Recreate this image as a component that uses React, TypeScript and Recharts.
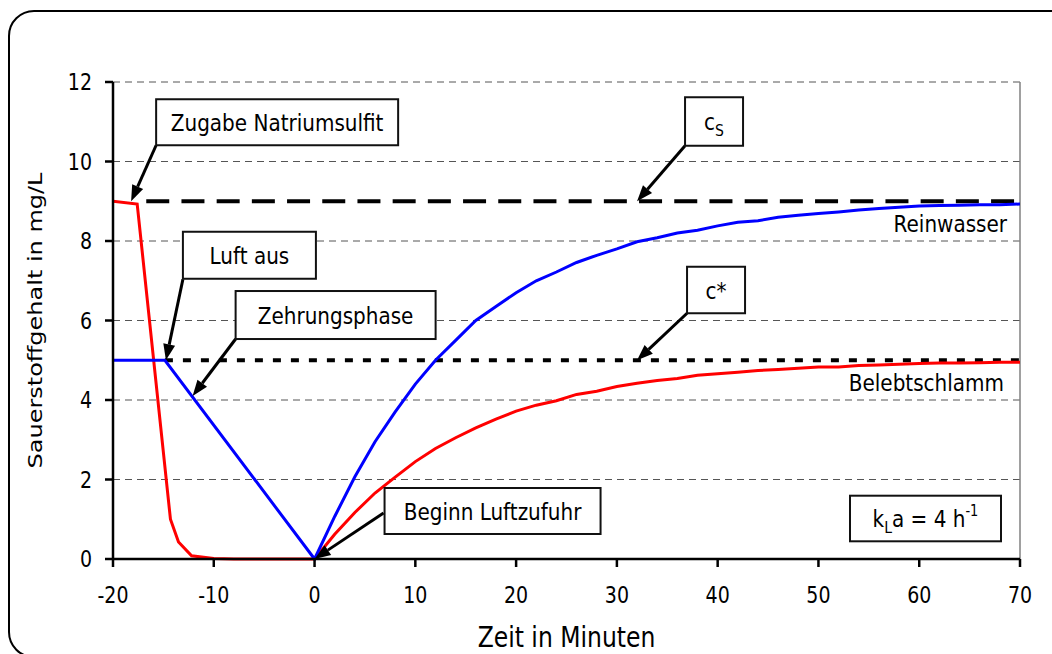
import React from "react";
import {
  LineChart,
  Line,
  XAxis,
  YAxis,
  CartesianGrid,
  ReferenceLine,
  ReferenceDot,
  Label,
} from "recharts";

const FONT = "'DejaVu Sans', Verdana, sans-serif";
// Tahoma-like tall lettering
const STRETCH = 1.17;

// Belebtschlamm (red)
const sludgeTime = [
  -20, -17.6, -14.3, -13.5, -12.2, -10, -8, -6, -4, -2, 0, 2, 4, 6, 8, 10, 12,
  14, 16, 18, 20, 22, 24, 26, 28, 30, 32, 34, 36, 38, 40, 42, 44, 46, 48, 50,
  52, 54, 56, 58, 60, 62, 64, 66, 68, 70,
];
const sludgeO2 = [
  9.0, 8.93, 1.0, 0.43, 0.08, 0.01, 0, 0, 0, 0, 0, 0.62, 1.17, 1.66, 2.06, 2.45,
  2.78, 3.05, 3.3, 3.52, 3.72, 3.87, 3.98, 4.14, 4.22, 4.34, 4.42, 4.49, 4.54,
  4.62, 4.66, 4.7, 4.74, 4.77, 4.8, 4.83, 4.83, 4.87, 4.88, 4.9, 4.92, 4.93,
  4.93, 4.94, 4.95, 4.95,
];

// Reinwasser (blue)
const waterTime = [
  -20, -14.85, 0, 2, 4, 6, 8, 10, 12, 14, 16, 18, 20, 22, 24, 26, 28, 30, 32,
  34, 36, 38, 40, 42, 44, 46, 48, 50, 52, 54, 56, 58, 60, 62, 64, 66, 68, 70,
];
const waterO2 = [
  5, 5, 0, 1.07, 2.07, 2.95, 3.7, 4.4, 5.0, 5.5, 6.0, 6.35, 6.7, 7.0, 7.22,
  7.46, 7.64, 7.8, 7.98, 8.08, 8.2, 8.27, 8.38, 8.47, 8.51, 8.6, 8.65, 8.69,
  8.73, 8.78, 8.82, 8.85, 8.88, 8.89, 8.9, 8.91, 8.91, 8.93,
];

const xTicks = [-20, -10, 0, 10, 20, 30, 40, 50, 60, 70];
const yTicks = [0, 2, 4, 6, 8, 10, 12];

const cS = 9; // Sättigungskonzentration Reinwasser
const cStar = 5; // Gleichgewicht Belebtschlamm

const sludge = sludgeTime.map((t, i) => ({ t, v: sludgeO2[i] }));
const water = waterTime.map((t, i) => ({ t, v: waterO2[i] }));

function TallText({ x, y, size = 20, anchor = "middle", children }: any) {
  return (
    <text
      transform={`translate(${x},${y}) scale(1,${STRETCH})`}
      fontSize={size}
      fontFamily={FONT}
      textAnchor={anchor}
      fill="#000"
    >
      {children}
    </text>
  );
}

function Arrow({ x1, y1, x2, y2 }: any) {
  const len = Math.hypot(x2 - x1, y2 - y1);
  const ux = (x2 - x1) / len;
  const uy = (y2 - y1) / len;
  const head = 16;
  const half = 6;
  const bx = x2 - ux * head;
  const by = y2 - uy * head;
  return (
    <g>
      <line x1={x1} y1={y1} x2={bx} y2={by} stroke="#000" strokeWidth={3} />
      <polygon
        points={`${x2},${y2} ${bx - uy * half},${by + ux * half} ${bx + uy * half},${by - ux * half}`}
        fill="#000"
      />
    </g>
  );
}

// callouts: tip in data units, box [dx, dy, w, h] and arrow start relative to the tip in px
const callouts = [
  { t: -18.2, v: 9, text: "Zugabe Natriumsulfit", box: [25, -102, 242, 46], from: [25, -56] },
  { t: -14.75, v: 5, text: "Luft aus", box: [17, -128.5, 133, 47], from: [17, -81] },
  { t: -12.1, v: 4.1, text: "Zehrungsphase", box: [43, -105, 200, 48], from: [43, -57] },
  { t: 0, v: 0, text: "Beginn Luftzufuhr", box: [70, -71, 216, 46], from: [69, -46] },
  {
    t: 32,
    v: cS,
    text: (
      <>
        c<tspan fontSize={14} dy={5}>S</tspan>
      </>
    ),
    box: [48, -104, 58, 48.5],
    from: [48, -55.5],
  },
  { t: 32, v: cStar, text: "c*", box: [50, -93.5, 58, 46.5], from: [50, -47] },
  {
    t: 70,
    v: 0,
    text: (
      <>
        k<tspan fontSize={14} dy={5}>L</tspan>
        <tspan dy={-5}>a = 4 h</tspan>
        <tspan fontSize={13} dy={-9}>-1</tspan>
      </>
    ),
    box: [-170, -63.3, 151, 45.6],
  },
];

function Callout({ cx, cy, spec }: any) {
  const [dx, dy, w, h] = spec.box;
  const bx = cx + dx;
  const by = cy + dy;
  return (
    <g>
      {spec.from && (
        <Arrow x1={cx + spec.from[0]} y1={cy + spec.from[1]} x2={cx} y2={cy} />
      )}
      <rect x={bx} y={by} width={w} height={h} fill="#fff" stroke="#111" strokeWidth={2} />
      <TallText x={bx + w / 2} y={by + h / 2 + 8.5}>
        {spec.text}
      </TallText>
    </g>
  );
}

// series names at the right end of each curve
const seriesLabels = [
  { t: 70, v: cS, text: "Reinwasser", dx: -13, dy: 31 },
  { t: 70, v: cStar, text: "Belebtschlamm", dx: -16, dy: 30.5 },
];

const XTick = ({ x, y, payload }: any) => (
  <TallText x={x} y={y + 34} size={19}>
    {payload.value}
  </TallText>
);

const YTick = ({ x, y, payload }: any) => (
  <TallText x={x} y={y + 8} size={19} anchor="end">
    {payload.value}
  </TallText>
);

const XTitle = (props: any) => {
  const vb = props.viewBox ?? { x: 113, y: 559, width: 907, height: 95 };
  return (
    <TallText x={vb.x + vb.width / 2} y={vb.y + 87.5} size={23.5}>
      Zeit in Minuten
    </TallText>
  );
};

const YTitle = (props: any) => {
  const vb = props.viewBox ?? { x: 0, y: 82, width: 113, height: 477 };
  const cy = vb.y + vb.height / 2;
  return (
    <text
      transform={`translate(42,${cy}) scale(1,1.2) rotate(-90)`}
      fontSize={20}
      fontFamily={FONT}
      textAnchor="middle"
      fill="#000"
    >
      Sauerstoffgehalt in mg/L
    </text>
  );
};

export default function App() {
  return (
    <div
      style={{
        position: "fixed",
        left: 0,
        top: 0,
        width: 1052,
        height: 654,
        overflow: "hidden",
        background: "#fff",
      }}
    >
      <div
        style={{
          position: "absolute",
          left: 8,
          top: 10,
          width: 1064,
          height: 644,
          border: "2px solid #000",
          borderRadius: 26,
        }}
      />
      <div style={{ position: "absolute", left: 0, top: 0 }}>
        <LineChart
          width={1052}
          height={654}
          margin={{ top: 82, right: 32, bottom: 0, left: 0 }}
        >
          <CartesianGrid
            horizontal
            vertical={false}
            stroke="#555"
            strokeDasharray="7 5"
            strokeWidth={1}
          />
          <XAxis
            type="number"
            dataKey="t"
            domain={[-20, 70]}
            ticks={xTicks}
            allowDataOverflow
            height={95}
            tickSize={8}
            tickMargin={2}
            axisLine={{ stroke: "#000", strokeWidth: 2.5 }}
            tickLine={{ stroke: "#000", strokeWidth: 2.5 }}
            tick={XTick}
          >
            <Label content={XTitle} />
          </XAxis>
          <YAxis
            type="number"
            domain={[0, 12]}
            ticks={yTicks}
            width={113}
            tickSize={8}
            tickMargin={13}
            axisLine={{ stroke: "#000", strokeWidth: 2.5 }}
            tickLine={{ stroke: "#000", strokeWidth: 2.5 }}
            tick={YTick}
          >
            <Label content={YTitle} />
          </YAxis>
          <ReferenceLine x={70} stroke="#808080" strokeWidth={1.5} />
          <ReferenceLine
            segment={[
              { x: -16.7, y: cS },
              { x: 70, y: cS },
            ]}
            stroke="#000"
            strokeWidth={4}
            strokeDasharray="23 12.2"
          />
          <ReferenceLine
            segment={[
              { x: -14.85, y: cStar },
              { x: 70, y: cStar },
            ]}
            stroke="#000"
            strokeWidth={4}
            strokeDasharray="8 10"
          />
          <Line
            data={sludge}
            dataKey="v"
            type="linear"
            stroke="#ff0000"
            strokeWidth={3}
            dot={false}
            isAnimationActive={false}
          />
          <Line
            data={water}
            dataKey="v"
            type="linear"
            stroke="#0000ff"
            strokeWidth={3}
            dot={false}
            isAnimationActive={false}
          />
          {seriesLabels.map((s) => (
            <ReferenceDot
              key={s.text}
              x={s.t}
              y={s.v}
              r={1}
              shape={(p: any) => (
                <TallText x={p.cx + s.dx} y={p.cy + s.dy} anchor="end">
                  {s.text}
                </TallText>
              )}
            />
          ))}
          {callouts.map((c, i) => (
            <ReferenceDot
              key={i}
              x={c.t}
              y={c.v}
              r={1}
              shape={(p: any) => <Callout cx={p.cx} cy={p.cy} spec={c} />}
            />
          ))}
        </LineChart>
      </div>
    </div>
  );
}
